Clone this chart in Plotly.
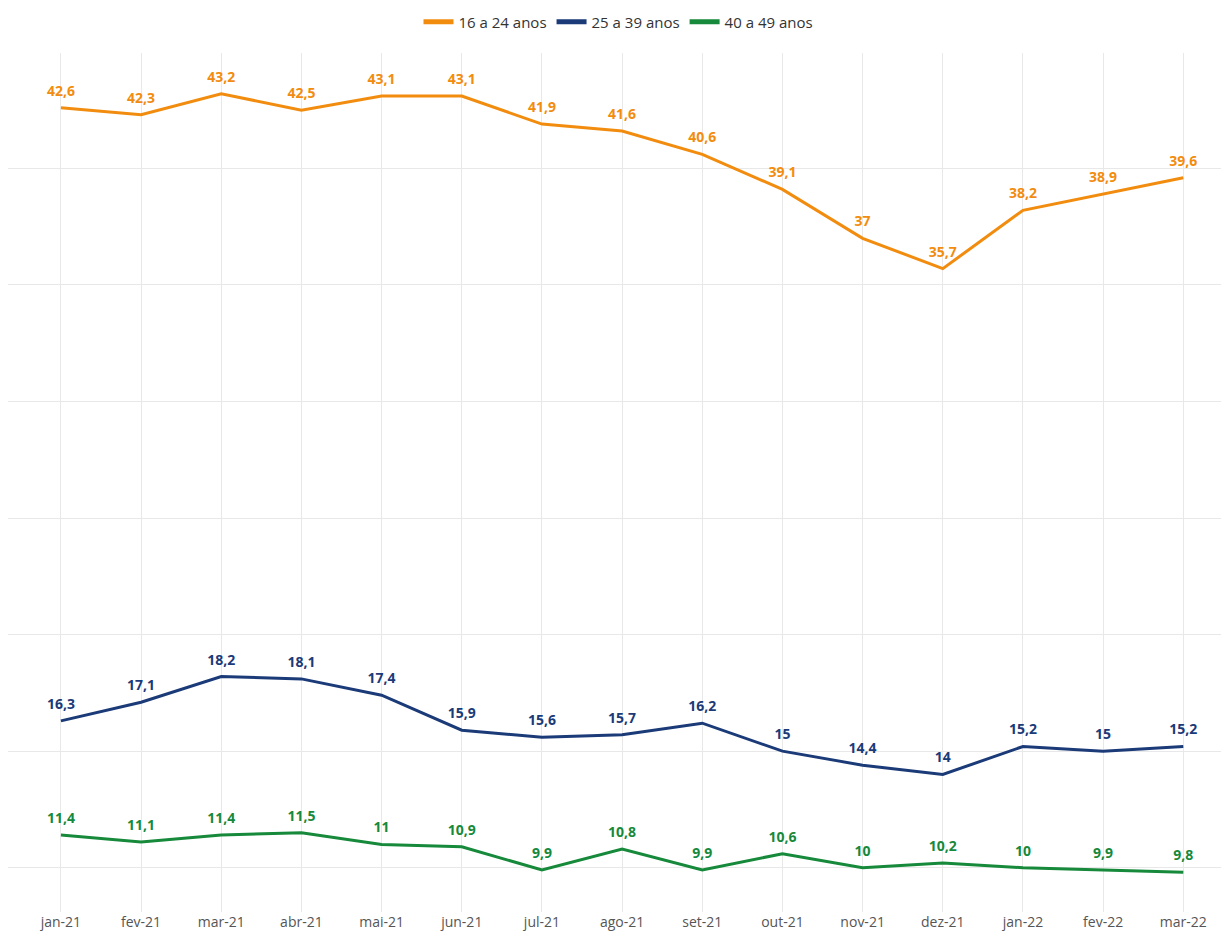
import plotly.graph_objects as go

months = ["jan-21", "fev-21", "mar-21", "abr-21", "mai-21", "jun-21", "jul-21", "ago-21",
          "set-21", "out-21", "nov-21", "dez-21", "jan-22", "fev-22", "mar-22"]
s16_24 = [42.6, 42.3, 43.2, 42.5, 43.1, 43.1, 41.9, 41.6, 40.6, 39.1, 37, 35.7, 38.2, 38.9, 39.6]
s25_39 = [16.3, 17.1, 18.2, 18.1, 17.4, 15.9, 15.6, 15.7, 16.2, 15, 14.4, 14, 15.2, 15, 15.2]
s40_49 = [11.4, 11.1, 11.4, 11.5, 11, 10.9, 9.9, 10.8, 9.9, 10.6, 10, 10.2, 10, 9.9, 9.8]

names = ["16 a 24 anos", "25 a 39 anos", "40 a 49 anos"]
colors = ["#F28C0F", "#1B3A78", "#16893A"]

def fmt(v):
    s = ("%g" % v)
    return s.replace(".", ",")

fig = go.Figure()
for name, vals, col in zip(names, [s16_24, s25_39, s40_49], colors):
    fig.add_trace(go.Scatter(
        x=list(range(len(months))), y=vals, name=name, mode="lines+markers+text",
        line=dict(color=col, width=3),
        marker=dict(size=12, color="rgba(0,0,0,0)", line=dict(width=0)),
        text=[fmt(v) for v in vals], textposition="top center",
        textfont=dict(color=col, size=14, family="Open Sans", weight="bold"),
        cliponaxis=False,
    ))

fig.update_layout(
    width=1221, height=927,
    margin=dict(l=0, r=0, t=45, b=23, autoexpand=False),
    paper_bgcolor="white", plot_bgcolor="white",
    font=dict(family="Open Sans", color="#444"),
    legend=dict(orientation="h", x=0.5, xanchor="center", y=1.036, yanchor="middle",
                font=dict(size=15, color="#333"), itemsizing="constant"),
    showlegend=True,
)
fig.update_xaxes(
    tickmode="array", tickvals=list(range(len(months))), ticktext=months,
    range=[-0.66, 14.57], showgrid=True, gridcolor="#e8e8e8", zeroline=False,
    showline=False, tickfont=dict(size=14, color="#555"), ticks="",
)
fig.update_yaxes(
    range=[8.1, 44.95], dtick=5, tick0=0, showgrid=True, gridcolor="#e8e8e8",
    zeroline=False, showticklabels=False, showline=False,
)
fig.write_html("out.html")
